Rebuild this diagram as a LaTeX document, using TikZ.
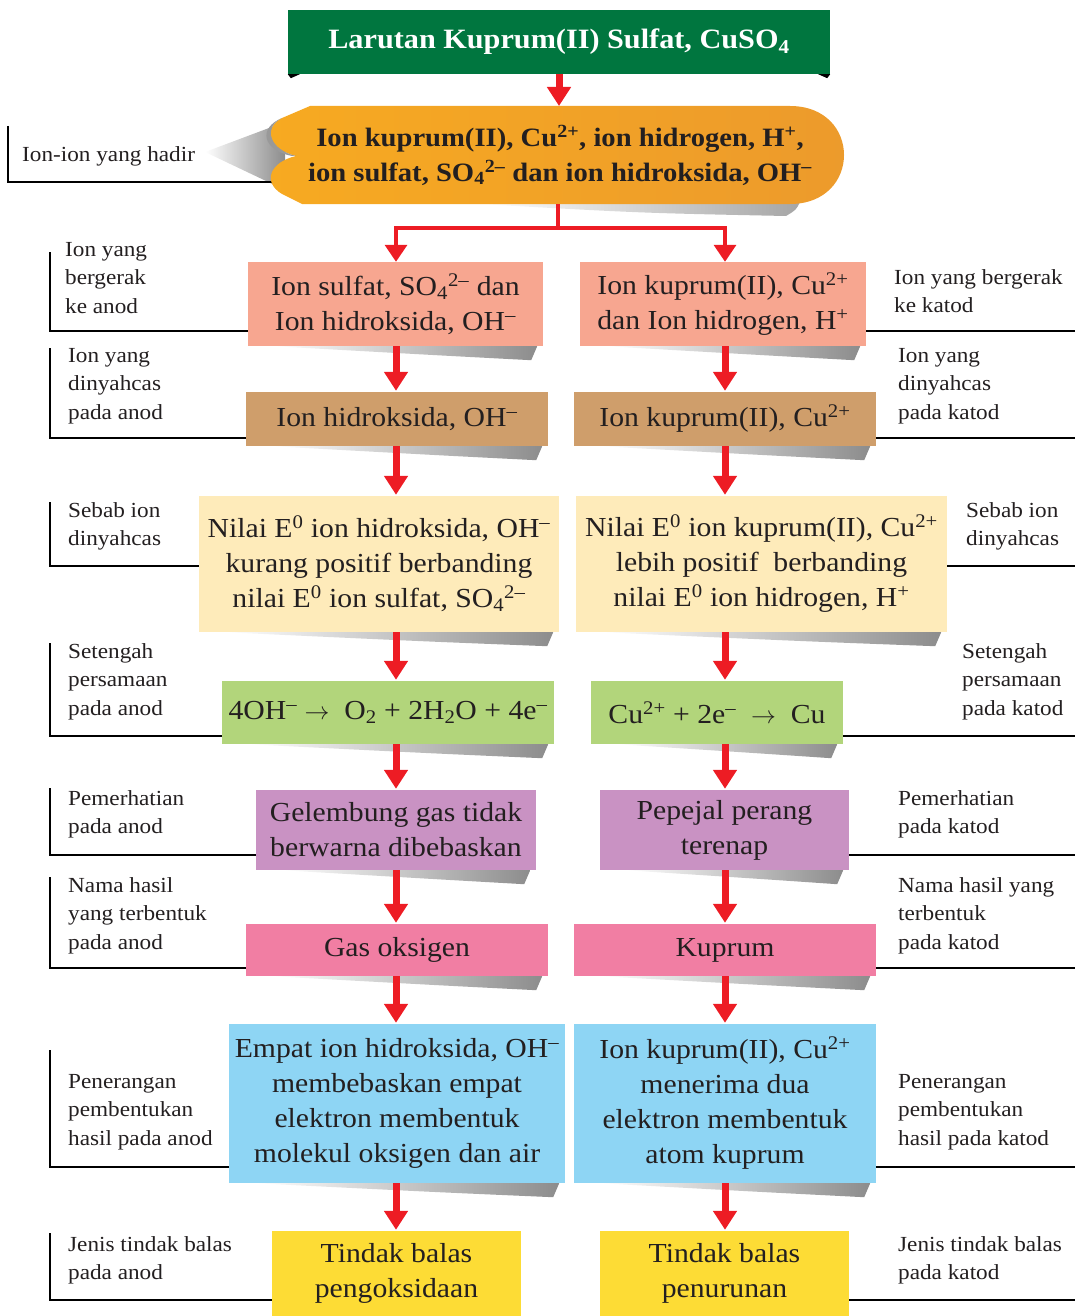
\documentclass[tikz,border=0pt]{standalone}
\usepackage{fontspec}
\setmainfont{Liberation Serif}[FakeStretch=1.08]
\usetikzlibrary{arrows.meta,calc,backgrounds}
\definecolor{titlegreen}{RGB}{0,118,63}
\definecolor{orngA}{RGB}{247,170,33}
\definecolor{orngB}{RGB}{236,154,44}
\definecolor{salmonc}{RGB}{247,166,144}
\definecolor{boxtan}{RGB}{207,158,107}
\definecolor{creamc}{RGB}{254,235,186}
\definecolor{lgreen}{RGB}{178,213,123}
\definecolor{purp}{RGB}{201,146,195}
\definecolor{pinkc}{RGB}{241,126,163}
\definecolor{skyc}{RGB}{142,213,244}
\definecolor{yellc}{RGB}{253,220,53}
\definecolor{redc}{RGB}{237,28,36}
\definecolor{txt}{RGB}{35,31,32}
\newcommand\boxfont{\fontsize{27.5}{35}\selectfont}
\newcommand\labfont{\fontsize{21.5}{28.5}\selectfont}
\newcommand\ms{\textsuperscript{\textendash}}
\newcommand\sps[1]{\textsuperscript{#1}}
\newcommand\sbs[1]{\textsubscript{#1}}
\newcommand\shadowunder[1]{%
  \shade[left color=white, right color=black!45]
    ($(#1.south west)+(26,0)$) -- ($(#1.south east)+(-6,0)$)
    -- ($(#1.south east)+(-12,14)$)
    .. controls ($(#1.south)+(40,9)$) .. ($(#1.south west)+(26,0)$) -- cycle;}
\begin{document}
\begin{tikzpicture}[x=1pt,y=-1pt,
  box/.style={inner sep=0pt, align=center, text=txt, font=\boxfont},
  lab/.style={anchor=north west, inner sep=0pt, align=left, text=txt, font=\labfont},
  brk/.style={line width=1.3pt, black},
  redarr/.style={draw=redc, line width=7pt, -{Triangle[width=23pt,length=19pt]}},
  splitarr/.style={draw=redc, line width=3.5pt, -{Triangle[width=22pt,length=17pt]}},
  redline/.style={draw=redc, line width=3.5pt}]
\useasboundingbox (0,0) rectangle (1075,1316);

% column axes
\coordinate (lx) at (396,0);
\coordinate (rx) at (725,0);

% title
\node[box, fill=titlegreen, text=white, font=\fontsize{28}{30}\selectfont\bfseries,
      minimum width=542pt, minimum height=64pt] (title) at (559,42)
      {Larutan Kuprum(II) Sulfat, CuSO\sbs{4}};
\fill[black] (title.south west) -- ++(12,0) -- ++(-9,4) -- cycle;
\fill[black] (title.south east) -- ++(-12,0) -- ++(9,4) -- cycle;

% orange ribbon
\shade[left color=white, right color=black!45] (205,152) -- (285,122) -- (285,190) -- cycle;
\draw[brk] (8,126) |- (280,182);
\shade[left color=white, right color=black!35] (480,204) -- (800,202) .. controls (796,210) .. (786,216) .. controls (640,213) .. (480,204) -- cycle;
\shade[left color=orngA, right color=orngB]
  (310,106) -- (790,106) .. controls (862,106) and (862,204) .. (790,204) -- (302,204)
  -- (282,194) .. controls (262,182) and (270,162) .. (296,156)
  .. controls (270,150) and (262,128) .. (282,118) -- cycle;
\fill[black!40] (282,118) .. controls (258,128) and (262,150) .. (292,156)
  -- (296,156) .. controls (270,150) and (262,128) .. (282,118) -- cycle;
\coordinate (iontop) at (559,106);
\coordinate (ionbot) at (558,204);
\node[box, font=\fontsize{26.5}{35}\selectfont\bfseries] (ions) at (560,155)
  {Ion kuprum(II), Cu\sps{2+}, ion hidrogen, H\sps{+},\\
   ion sulfat, SO\sbs{4}\sps{2\textendash} dan ion hidroksida, OH\ms};
\node[lab] (l0) at (22,146) {Ion-ion yang hadir};

% left column boxes
\node[box, fill=salmonc, minimum width=295pt, minimum height=84pt] (a1) at (395.5,304)
  {Ion sulfat, SO\sbs{4}\sps{2\textendash} dan\\Ion hidroksida, OH\ms};
\node[box, fill=boxtan, minimum width=302pt, minimum height=54pt] (a2) at (397,419)
  {Ion hidroksida, OH\ms};
\node[box, fill=creamc, minimum width=360pt, minimum height=136pt] (a3) at (379,564)
  {Nilai E\sps{0} ion hidroksida, OH\ms\\kurang positif berbanding\\nilai E\sps{0} ion sulfat, SO\sbs{4}\sps{2\textendash}};
\node[box, fill=lgreen, minimum width=332pt, minimum height=63pt] (a4) at (388,712.5)
  {4OH\ms{}\ $\rightarrow$\ \ O\sbs{2} + 2H\sbs{2}O + 4e\ms};
\node[box, fill=purp, minimum width=280pt, minimum height=80pt] (a5) at (396,830)
  {Gelembung gas tidak\\berwarna dibebaskan};
\node[box, fill=pinkc, minimum width=302pt, minimum height=52pt] (a6) at (397,950)
  {Gas oksigen};
\node[box, fill=skyc, minimum width=336pt, minimum height=159pt] (a7) at (397,1103.5)
  {Empat ion hidroksida, OH\ms\\membebaskan empat\\elektron membentuk\\molekul oksigen dan air};
\node[box, fill=yellc, minimum width=249pt, minimum height=85pt] (a8) at (396.5,1273.5)
  {Tindak balas\\pengoksidaan};

% right column boxes
\node[box, fill=salmonc, minimum width=286pt, minimum height=84pt] (b1) at (723,304)
  {Ion kuprum(II), Cu\sps{2+}\\dan Ion hidrogen, H\sps{+}};
\node[box, fill=boxtan, minimum width=302pt, minimum height=54pt] (b2) at (725,419)
  {Ion kuprum(II), Cu\sps{2+}};
\node[box, fill=creamc, minimum width=371pt, minimum height=136pt] (b3) at (761.5,564)
  {Nilai E\sps{0} ion kuprum(II), Cu\sps{2+}\\lebih positif\ \ berbanding\\nilai E\sps{0} ion hidrogen, H\sps{+}};
\node[box, fill=lgreen, minimum width=252pt, minimum height=63pt] (b4) at (717,712.5)
  {Cu\sps{2+} + 2e\ms{}\ \ $\rightarrow$\ \ Cu};
\node[box, fill=purp, minimum width=249pt, minimum height=80pt] (b5) at (724.5,830)
  {Pepejal perang\\terenap};
\node[box, fill=pinkc, minimum width=302pt, minimum height=52pt] (b6) at (725,950)
  {Kuprum};
\node[box, fill=skyc, minimum width=302pt, minimum height=159pt] (b7) at (725,1103.5)
  {Ion kuprum(II), Cu\sps{2+}\\menerima dua\\elektron membentuk\\atom kuprum};
\node[box, fill=yellc, minimum width=249pt, minimum height=85pt] (b8) at (724.5,1273.5)
  {Tindak balas\\penurunan};

% shadows
\begin{scope}[on background layer]
\foreach \n in {a1,a2,a3,a4,a5,a6,a7,b1,b2,b3,b4,b5,b6,b7}{\shadowunder{\n}}
\end{scope}

% arrows
\draw[redarr] (title.south) -- (iontop);
\coordinate (split) at (558,228);
\draw[redline] (ionbot) -- (split);
\draw[splitarr] (split) -| (a1.north -| lx);
\draw[splitarr] (split) -| (b1.north -| rx);
\foreach \p/\q in {a1/a2,a2/a3,a3/a4,a4/a5,a5/a6,a6/a7,a7/a8}
  \draw[redarr] (\p.south -| lx) -- ([yshift=1pt]\q.north -| lx);
\foreach \p/\q in {b1/b2,b2/b3,b3/b4,b4/b5,b5/b6,b6/b7,b7/b8}
  \draw[redarr] (\p.south -| rx) -- ([yshift=1pt]\q.north -| rx);

% left labels
\node[lab] (l1) at (65,242) {Ion yang\\bergerak\\ke anod};
\node[lab] (l2) at (68,348) {Ion yang\\dinyahcas\\pada anod};
\node[lab] (l3) at (68,502) {Sebab ion\\dinyahcas};
\node[lab] (l4) at (68,643) {Setengah\\persamaan\\pada anod};
\node[lab] (l5) at (68,790) {Pemerhatian\\pada anod};
\node[lab] (l6) at (68,877) {Nama hasil\\yang terbentuk\\pada anod};
\node[lab] (l7) at (68,1074) {Penerangan\\pembentukan\\hasil pada anod};
\node[lab] (l8) at (68,1236) {Jenis tindak balas\\pada anod};

% right labels
\node[lab] (r1) at (894,269) {Ion yang bergerak\\ke katod};
\node[lab] (r2) at (898,348) {Ion yang\\dinyahcas\\pada katod};
\node[lab] (r3) at (966,502) {Sebab ion\\dinyahcas};
\node[lab] (r4) at (962,643) {Setengah\\persamaan\\pada katod};
\node[lab] (r5) at (898,790) {Pemerhatian\\pada katod};
\node[lab] (r6) at (898,877) {Nama hasil yang\\terbentuk\\pada katod};
\node[lab] (r7) at (898,1074) {Penerangan\\pembentukan\\hasil pada katod};
\node[lab] (r8) at (898,1236) {Jenis tindak balas\\pada katod};

% left brackets
\draw[brk] (50,252) |- (a1.west |- 0,331);
\draw[brk] (50,348) |- (a2.west |- 0,438);
\draw[brk] (50,502) |- (a3.west |- 0,566);
\draw[brk] (50,643) |- (a4.west |- 0,736);
\draw[brk] (50,788) |- (a5.west |- 0,855);
\draw[brk] (50,877) |- (a6.west |- 0,968);
\draw[brk] (50,1050) |- (a7.west |- 0,1167);
\draw[brk] (50,1233) |- (a8.west |- 0,1300);

% right lines
\draw[brk] (b1.east |- 0,331) -- (1075,331);
\draw[brk] (b2.east |- 0,438) -- (1075,438);
\draw[brk] (b3.east |- 0,566) -- (1075,566);
\draw[brk] (b4.east |- 0,736) -- (1075,736);
\draw[brk] (b5.east |- 0,855) -- (1075,855);
\draw[brk] (b6.east |- 0,968) -- (1075,968);
\draw[brk] (b7.east |- 0,1167) -- (1075,1167);
\draw[brk] (b8.east |- 0,1300) -- (1075,1300);
\end{tikzpicture}
\end{document}
